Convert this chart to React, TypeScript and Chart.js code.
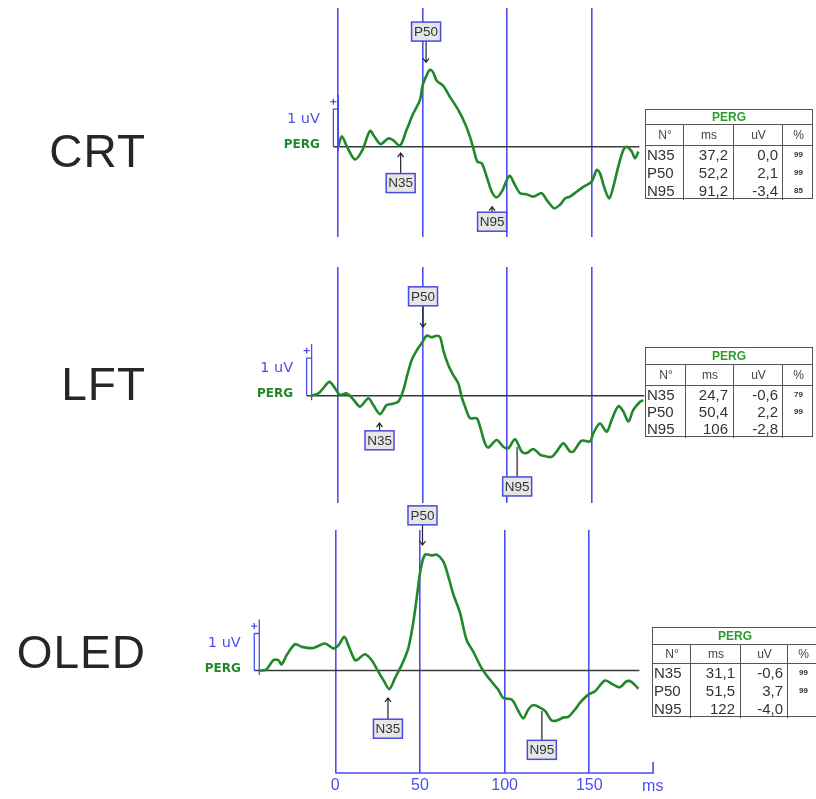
import React, { useEffect, useRef } from 'react';
import { Chart, registerables } from 'chart.js';
Chart.register(...registerables);

// ---------------- data ----------------
const TICKS_MS = [0, 50, 100, 150];
const PEAK_NAMES = ['N35', 'P50', 'N95'];
const TABLE_HEADERS = ['N°', 'ms', 'uV', '%'];

const CRT_MS = [0.4, 2.4, 5.5, 10.2, 14.5, 19.1, 22.0, 25.4, 29.9, 32.5, 36.8, 40.7, 44.7, 48.6, 50.2, 52.6, 54.5, 56.5, 58.5, 62.4, 66.3, 71.2, 75.2, 78.1, 80.1, 82.5, 85.1, 88.0, 91.0, 93.9, 96.9, 101.4, 104.7, 107.7, 111.6, 115.5, 120.5, 123.4, 127.8, 131.3, 134.3, 137.2, 141.2, 145.1, 150.0, 153.0, 154.9, 157.9, 160.4, 162.8, 165.7, 168.7, 170.7, 173.7, 175.6, 177.6];
const CRT_UV = [0, 0.28, 0, -0.34, -0.1, 0.42, 0.25, 0.07, 0.22, 0.18, 0.03, 0.45, 0.89, 1.25, 1.64, 1.91, 2.05, 1.97, 1.76, 1.62, 1.33, 0.98, 0.62, 0.27, -0.04, -0.4, -0.44, -0.8, -1.2, -1.35, -1.2, -0.78, -1.02, -1.24, -1.27, -1.33, -1.24, -1.42, -1.64, -1.55, -1.38, -1.33, -1.2, -1.07, -0.93, -0.62, -0.71, -1.15, -1.38, -1.07, -0.53, -0.09, 0, -0.13, -0.31, -0.13];
const CRT_PEAK_MS = [37.2, 52.2, 91.2];
const CRT_PEAK_UV = [0.0, 2.1, -3.4];
const CRT_PEAK_PCT = ['99', '99', '85'];

const LFT_MS = [-15.4, -11.4, -8.5, -4.9, -1.6, 1.4, 5.3, 9.2, 13.2, 18.1, 21.0, 25.0, 28.9, 32.0, 35.8, 38.8, 40.8, 43.7, 46.7, 49.6, 52.6, 55.5, 58.5, 60.5, 62.4, 65.3, 68.3, 71.2, 73.2, 75.2, 78.1, 82.1, 84.1, 87.0, 89.0, 93.9, 97.8, 100.8, 104.7, 108.7, 111.6, 115.5, 119.5, 122.4, 126.4, 129.3, 133.3, 137.2, 139.2, 144.1, 149.0, 151.0, 154.9, 158.9, 161.8, 165.7, 168.7, 171.7, 174.6, 178.6, 180.5];
const LFT_UV = [0, 0.06, 0.2, 0.37, 0.2, 0.02, 0.06, -0.1, -0.29, -0.07, -0.25, -0.49, -0.25, -0.22, -0.16, 0.15, 0.5, 0.95, 1.21, 1.4, 1.6, 1.56, 1.6, 1.56, 1.21, 0.82, 0.55, 0.33, -0.03, -0.29, -0.6, -0.6, -0.83, -1.27, -1.38, -1.18, -1.36, -1.4, -1.16, -1.49, -1.53, -1.42, -1.57, -1.61, -1.63, -1.49, -1.27, -1.49, -1.49, -1.2, -1.22, -1.0, -0.74, -0.96, -0.65, -0.28, -0.42, -0.69, -0.38, -0.16, -0.12];
const LFT_PEAK_MS = [24.7, 50.4, 106];
const LFT_PEAK_UV = [-0.6, 2.2, -2.8];
const LFT_PEAK_PCT = ['79', '99', ''];

const OLED_MS = [-44.9, -40.9, -36.6, -33.7, -31.7, -28.7, -23.8, -19.8, -13.0, -6.1, -1.2, 1.8, 5.3, 7.7, 11.6, 13.6, 17.5, 21.5, 25.4, 28.8, 31.9, 35.3, 39.2, 43.1, 46.1, 48.5, 50.4, 53.0, 56.9, 59.9, 63.8, 66.7, 69.7, 73.6, 77.6, 81.5, 86.5, 91.4, 96.3, 99.2, 104.2, 107.1, 111.0, 114.0, 117.0, 120.9, 123.9, 127.8, 130.8, 134.7, 137.6, 141.6, 144.5, 149.4, 153.4, 159.3, 164.2, 168.2, 172.1, 175.1, 179.0];
const OLED_UV = [0, 0.02, 0.28, 0.28, 0.17, 0.42, 0.71, 0.64, 0.61, 0.73, 0.6, 0.68, 0.91, 0.68, 0.28, 0.31, 0.44, 0.28, -0.03, -0.29, -0.5, -0.2, 0.15, 0.6, 1.31, 2.11, 2.73, 3.13, 3.11, 3.13, 2.95, 2.55, 2.06, 1.57, 0.82, 0.51, 0.06, -0.25, -0.52, -0.74, -0.78, -1.0, -1.29, -1.05, -0.93, -1.0, -1.09, -1.35, -1.35, -1.27, -1.25, -1.05, -0.87, -0.65, -0.56, -0.27, -0.38, -0.45, -0.29, -0.31, -0.49];
const OLED_PEAK_MS = [31.1, 51.5, 122];
const OLED_PEAK_UV = [-0.6, 3.7, -4.0];
const OLED_PEAK_PCT = ['99', '99', ''];

// ---------------- layout / style ----------------
const W = 816;
const H = 799;
const PX_PER_MS = 1.693;
const PX_PER_UV = 37.5;
const X_MIN = -46;
const X_MAX = 182;
const AXIS_END_MS = 187.7;
const BLUE = '#4d4df2';
const BOX_BLUE = '#4a4ae0';
const GREEN = '#20882a';
const FONT = '"Liberation Sans", Arial, sans-serif';
const DJ = '"DejaVu Sans", Verdana, sans-serif';
const AXIS_FONT = 16;
const AXIS_PAD = 3;

type MarkerLayout = { box: number; tip: number; kind: 'up' | 'down' | 'line' };
interface Panel {
  title: string;
  ms: number[];
  uv: number[];
  peakMs: number[];
  peakUv: number[];
  pct: string[];
  canvasTop: number;
  canvasHeight: number;
  zeroX: number;
  baseY: number;
  gridTop: number;
  gridBottom: number;
  axis: boolean;
  markers: MarkerLayout[];
  titleTop: number;
  titleSize: number;
  table: { left: number; top: number; cols: number[]; rows: number[] };
}

const PANELS: Panel[] = [
  {
    title: 'CRT', ms: CRT_MS, uv: CRT_UV, peakMs: CRT_PEAK_MS, peakUv: CRT_PEAK_UV, pct: CRT_PEAK_PCT,
    canvasTop: 0, canvasHeight: 250, zeroX: 337.7, baseY: 146.7, gridTop: 8, gridBottom: 237, axis: false,
    markers: [
      { box: -0.97, tip: -0.17, kind: 'up' },
      { box: 3.07, tip: 2.25, kind: 'down' },
      { box: -2.0, tip: -1.6, kind: 'up' },
    ],
    titleTop: 128, titleSize: 46,
    table: { left: 645, top: 109, cols: [38, 50, 49, 31], rows: [15, 21, 18, 18, 18] },
  },
  {
    title: 'LFT', ms: LFT_MS, uv: LFT_UV, peakMs: LFT_PEAK_MS, peakUv: LFT_PEAK_UV, pct: LFT_PEAK_PCT,
    canvasTop: 250, canvasHeight: 260, zeroX: 337.7, baseY: 395.7, gridTop: 267, gridBottom: 503, axis: false,
    markers: [
      { box: -1.19, tip: -0.73, kind: 'up' },
      { box: 2.65, tip: 1.83, kind: 'down' },
      { box: -2.42, tip: -1.37, kind: 'line' },
    ],
    titleTop: 361, titleSize: 46,
    table: { left: 645, top: 347, cols: [40, 48, 49, 31], rows: [17, 21, 17, 17, 18] },
  },
  {
    title: 'OLED', ms: OLED_MS, uv: OLED_UV, peakMs: OLED_PEAK_MS, peakUv: OLED_PEAK_UV, pct: OLED_PEAK_PCT,
    canvasTop: 505, canvasHeight: 294, zeroX: 335.3, baseY: 672.3, gridTop: 530, gridBottom: 776, axis: true,
    markers: [
      { box: -1.57, tip: -0.74, kind: 'up' },
      { box: 4.19, tip: 3.39, kind: 'down' },
      { box: -2.14, tip: -1.09, kind: 'line' },
    ],
    titleTop: 629, titleSize: 46,
    table: { left: 652, top: 627, cols: [38, 50, 47, 31], rows: [17, 19, 18, 18, 18] },
  },
];

const fmtMs = (v: number) => (v >= 100 ? String(Math.round(v)) : v.toFixed(1).replace('.', ','));
const fmtUv = (v: number) => v.toFixed(1).replace('.', ',');

function buildChart(canvas: HTMLCanvasElement, p: Panel) {
  const axisH = p.axis ? AXIS_FONT * 1.2 + AXIS_PAD : 0;
  const left = p.zeroX + X_MIN * PX_PER_MS;
  const right = p.zeroX + X_MAX * PX_PER_MS;
  const yMax = (p.baseY - p.gridTop) / PX_PER_UV;
  const yMin = -(p.gridBottom - p.baseY) / PX_PER_UV;
  const padding = {
    left,
    right: W - right,
    top: p.gridTop - p.canvasTop,
    bottom: p.canvasTop + p.canvasHeight - p.gridBottom - axisH,
  };

  const overlay = {
    id: 'pergOverlay',
    beforeDatasetsDraw(chart: any) {
      const { ctx } = chart;
      const xs = chart.scales.x;
      const ys = chart.scales.y;
      const x0 = xs.getPixelForValue(p.ms[0]);
      const x1 = xs.getPixelForValue(p.ms[p.ms.length - 1]);
      const yb = ys.getPixelForValue(0);
      ctx.save();
      ctx.strokeStyle = '#3a3a3a';
      ctx.lineWidth = 1.4;
      ctx.beginPath();
      ctx.moveTo(x0 - 5, yb);
      ctx.lineTo(x1 + 1, yb);
      ctx.stroke();
      ctx.restore();
    },
    afterDatasetsDraw(chart: any) {
      const { ctx } = chart;
      const xs = chart.scales.x;
      const ys = chart.scales.y;
      const y = (v: number) => ys.getPixelForValue(v);
      const x0 = xs.getPixelForValue(p.ms[0]);
      ctx.save();
      // scale bar
      ctx.strokeStyle = BLUE;
      ctx.lineWidth = 1.3;
      ctx.beginPath();
      ctx.moveTo(x0, y(1.38));
      ctx.lineTo(x0, y(-0.12));
      ctx.moveTo(x0, y(1));
      ctx.lineTo(x0 - 5, y(1));
      ctx.lineTo(x0 - 5, y(0));
      const py = y(1.2);
      ctx.moveTo(x0 - 8, py);
      ctx.lineTo(x0 - 2, py);
      ctx.moveTo(x0 - 5, py - 3);
      ctx.lineTo(x0 - 5, py + 3);
      ctx.stroke();
      ctx.textAlign = 'right';
      ctx.textBaseline = 'middle';
      ctx.fillStyle = BLUE;
      ctx.font = `14.5px ${DJ}`;
      ctx.fillText('1 uV', x0 - 18.5, y(0.73));
      ctx.fillStyle = GREEN;
      ctx.font = `bold 12px ${DJ}`;
      ctx.fillText('PERG', x0 - 18.5, y(0.05));

      // peak markers
      p.markers.forEach((m, i) => {
        const x = xs.getPixelForValue(p.peakMs[i]);
        const by = y(m.box);
        const tip = y(m.tip);
        const bw = 29;
        const bh = 19;
        const top = by - bh / 2;
        const bot = by + bh / 2;
        ctx.beginPath();
        if (m.kind === 'down') {
          ctx.strokeStyle = '#222';
          ctx.lineWidth = 1.2;
          ctx.moveTo(x, bot);
          ctx.lineTo(x, tip);
          ctx.moveTo(x - 3, tip - 4);
          ctx.lineTo(x, tip);
          ctx.lineTo(x + 3, tip - 4);
        } else if (m.kind === 'up') {
          ctx.strokeStyle = '#222';
          ctx.lineWidth = 1.2;
          ctx.moveTo(x, top);
          ctx.lineTo(x, tip);
          ctx.moveTo(x - 3, tip + 4);
          ctx.lineTo(x, tip);
          ctx.lineTo(x + 3, tip + 4);
        } else {
          ctx.strokeStyle = '#666';
          ctx.lineWidth = 1.8;
          ctx.moveTo(x, top);
          ctx.lineTo(x, tip);
        }
        ctx.stroke();
        ctx.fillStyle = '#e6e6e6';
        ctx.fillRect(x - bw / 2, top, bw, bh);
        ctx.strokeStyle = BOX_BLUE;
        ctx.lineWidth = 1.5;
        ctx.strokeRect(x - bw / 2, top, bw, bh);
        ctx.fillStyle = '#333';
        ctx.font = `13.5px ${FONT}`;
        ctx.textAlign = 'center';
        ctx.textBaseline = 'middle';
        ctx.fillText(PEAK_NAMES[i], x, by + 0.5);
      });

      // time axis (bottom panel)
      if (p.axis) {
        const yb = chart.chartArea.bottom;
        const xa = xs.getPixelForValue(0);
        const xe = xs.getPixelForValue(AXIS_END_MS);
        ctx.strokeStyle = BLUE;
        ctx.lineWidth = 1.6;
        ctx.beginPath();
        ctx.moveTo(xa, yb);
        ctx.lineTo(xe, yb);
        ctx.lineTo(xe, yb - 11);
        ctx.stroke();
        ctx.fillStyle = BLUE;
        ctx.font = `${AXIS_FONT}px ${FONT}`;
        ctx.textAlign = 'left';
        ctx.textBaseline = 'middle';
        ctx.fillText('ms', xe - 11, yb + 14);
      }
      ctx.restore();
    },
  };

  return new Chart(canvas, {
    type: 'line',
    data: {
      datasets: [
        {
          data: p.ms.map((m, i) => ({ x: m, y: p.uv[i] })),
          borderColor: GREEN,
          borderWidth: 2.6,
          pointRadius: 0,
          tension: 0.3,
          fill: false,
        },
      ],
    },
    options: {
      animation: false,
      responsive: false,
      maintainAspectRatio: false,
      devicePixelRatio: 1,
      events: [],
      layout: { padding },
      plugins: { legend: { display: false }, tooltip: { enabled: false } },
      scales: {
        x: {
          type: 'linear',
          min: X_MIN,
          max: X_MAX,
          afterBuildTicks: (s: any) => {
            s.ticks = TICKS_MS.map((v) => ({ value: v }));
          },
          grid: { color: BLUE, lineWidth: 1.6, drawTicks: false },
          border: { display: false },
          ticks: {
            display: p.axis,
            color: BLUE,
            font: { size: AXIS_FONT, family: FONT },
            padding: AXIS_PAD,
            maxRotation: 0,
            autoSkip: false,
            callback: (v: any) => String(v),
          },
        },
        y: { type: 'linear', display: false, min: yMin, max: yMax },
      },
    },
    plugins: [overlay],
  } as any);
}

function PergTable({ p }: { p: Panel }) {
  const { left, top, cols, rows } = p.table;
  const width = cols.reduce((a, b) => a + b, 0);
  const height = rows.reduce((a, b) => a + b, 0);
  const colX: number[] = [0];
  cols.forEach((c) => colX.push(colX[colX.length - 1] + c));
  const rowY: number[] = [0];
  rows.forEach((r) => rowY.push(rowY[rowY.length - 1] + r));
  const line = '#555';
  const cell = (key: string, ci: number, ri: number, text: string, style: React.CSSProperties) => (
    <div
      key={key}
      style={{
        position: 'absolute',
        left: colX[ci],
        top: rowY[ri],
        width: cols[ci],
        height: rows[ri],
        lineHeight: `${rows[ri]}px`,
        boxSizing: 'border-box',
        whiteSpace: 'nowrap',
        ...style,
      }}
    >
      {text}
    </div>
  );
  return (
    <div
      style={{
        position: 'absolute',
        left,
        top,
        width,
        height,
        border: `1.5px solid ${line}`,
        boxSizing: 'border-box',
        background: '#fff',
        fontFamily: FONT,
        color: '#333',
      }}
    >
      <div style={{ position: 'absolute', left: 0, top: 0, width: '100%', height: rows[0], lineHeight: `${rows[0]}px`, textAlign: 'center', color: '#2c9c2c', fontWeight: 'bold', fontSize: 12 }}>
        PERG
      </div>
      <div style={{ position: 'absolute', left: 0, top: rowY[1] - 1, width: '100%', height: 1, background: line }} />
      <div style={{ position: 'absolute', left: 0, top: rowY[2] - 1, width: '100%', height: 1, background: line }} />
      {[1, 2, 3].map((c) => (
        <div key={'v' + c} style={{ position: 'absolute', left: colX[c] - 1, top: rowY[1], width: 1, height: height - rowY[1], background: line }} />
      ))}
      {TABLE_HEADERS.map((h, ci) => cell('h' + ci, ci, 1, h, { textAlign: 'center', fontSize: 12, color: '#444' }))}
      {PEAK_NAMES.map((n, i) => (
        <React.Fragment key={n}>
          {cell('n' + i, 0, i + 2, n, { textAlign: 'left', paddingLeft: 1, fontSize: 15 })}
          {cell('m' + i, 1, i + 2, fmtMs(p.peakMs[i]), { textAlign: 'right', paddingRight: 6, fontSize: 15 })}
          {cell('u' + i, 2, i + 2, fmtUv(p.peakUv[i]), { textAlign: 'right', paddingRight: 5, fontSize: 15 })}
          {cell('p' + i, 3, i + 2, p.pct[i], { textAlign: 'center', fontSize: 8, fontWeight: 'bold' })}
        </React.Fragment>
      ))}
    </div>
  );
}

function PanelView({ p }: { p: Panel }) {
  const ref = useRef<HTMLCanvasElement>(null);
  useEffect(() => {
    const c = buildChart(ref.current as HTMLCanvasElement, p);
    return () => c.destroy();
  }, [p]);
  return (
    <>
      <canvas
        ref={ref}
        width={W}
        height={p.canvasHeight}
        style={{ position: 'absolute', left: 0, top: p.canvasTop, width: W, height: p.canvasHeight }}
      />
      <div
        style={{
          position: 'absolute',
          left: 0,
          top: p.titleTop,
          width: 146,
          textAlign: 'right',
          fontFamily: FONT,
          fontSize: p.titleSize,
          lineHeight: 1,
          letterSpacing: 1,
          color: '#262626',
        }}
      >
        {p.title}
      </div>
      <PergTable p={p} />
    </>
  );
}

export default function App() {
  return (
    <div style={{ position: 'absolute', left: 0, top: 0, width: W, height: H, background: '#fff', overflow: 'hidden' }}>
      {PANELS.map((p) => (
        <PanelView key={p.title} p={p} />
      ))}
    </div>
  );
}
